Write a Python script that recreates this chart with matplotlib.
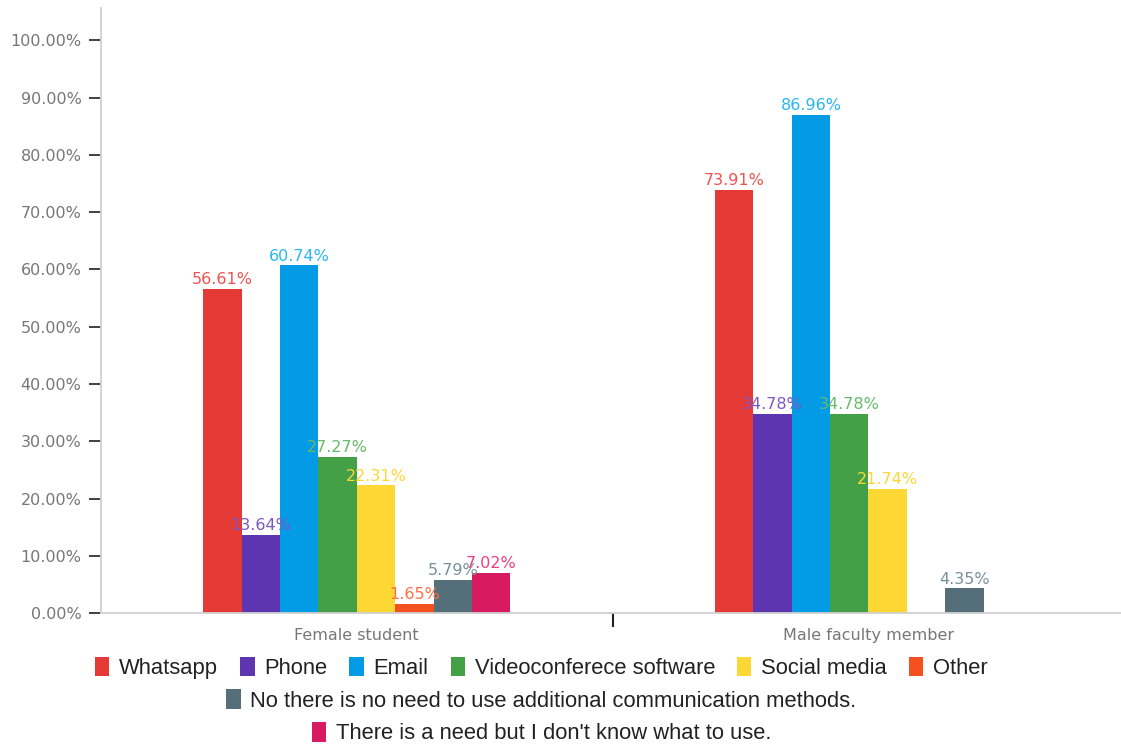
import numpy as np
import matplotlib.pyplot as plt
from matplotlib.patches import Patch
from matplotlib.ticker import FuncFormatter

groups = ["Female student", "Male faculty member"]
methods = [
    "Whatsapp",
    "Phone",
    "Email",
    "Videoconferece software",
    "Social media",
    "Other",
    "No there is no need to use additional communication methods.",
    "There is a need but I don't know what to use.",
]
female = [56.61, 13.64, 60.74, 27.27, 22.31, 1.65, 5.79, 7.02]
male = [73.91, 34.78, 86.96, 34.78, 21.74, 0.0, 4.35, 0.0]

bar_colors = ["#e53935", "#5e35b1", "#039be5", "#43a047",
              "#fdd835", "#f4511e", "#546e7a", "#d81b60"]
label_colors = ["#ef5350", "#7e57c2", "#29b6f6", "#66bb6a",
                "#fdd835", "#ff7043", "#78909c", "#ec407a"]

plt.rcParams['font.family'] = ['DejaVu Sans']

fig = plt.figure(figsize=(11.21, 7.46), dpi=100)
ax = fig.add_axes([0.090, 0.178, 0.913, 0.811])

x = np.arange(len(groups))
width = 0.075
n = len(methods)
for i, name in enumerate(methods):
    vals = [female[i], male[i]]
    pos = x + (i - (n - 1) / 2) * width
    ax.bar(pos, vals, width, color=bar_colors[i], label=name)
    for px, v in zip(pos, vals):
        if v > 0:
            ax.text(px, v + 0.3, f"{v:.2f}%", ha='center', va='bottom',
                    fontsize=11.5, color=label_colors[i])

ax.set_xlim(-0.5, 1.5)
ax.set_ylim(0, 105.6)
ax.set_yticks(np.arange(0, 101, 10))
ax.yaxis.set_major_formatter(FuncFormatter(lambda v, _: f"{v:.2f}%"))
ax.tick_params(axis='y', length=9, width=1.3, color='#333333',
               labelcolor='#777777', labelsize=11.5, pad=5)

# category names sit under each group, tick only at the boundary
ax.set_xticks([0.5])
ax.set_xticklabels([""])
ax.tick_params(axis='x', length=10, width=1.5, color='#222222', direction='out')
for gx, g in zip(x, groups):
    ax.text(gx, -2.6, g, ha='center', va='top', fontsize=11.5,
            color='#777777', transform=ax.transData)

for s in ['top', 'right']:
    ax.spines[s].set_visible(False)
for s in ['left', 'bottom']:
    ax.spines[s].set_color('#d0d0d0')
    ax.spines[s].set_linewidth(1.3)

# legend laid out in three centred rows
handles = [Patch(facecolor=c, edgecolor='none') for c in bar_colors]
leg_font = {'family': ['Liberation Sans', 'DejaVu Sans'], 'size': 15.8}
rows = [(slice(0, 6), 0.105), (slice(6, 7), 0.061), (slice(7, 8), 0.017)]
for sl, yy in rows:
    leg = fig.legend(handles[sl], methods[sl], loc='center',
                     bbox_to_anchor=(0.483, yy), ncol=6, frameon=False,
                     prop=leg_font, handlelength=0.65, handleheight=1.0,
                     handletextpad=0.45, columnspacing=1.0)
    for t in leg.get_texts():
        t.set_color('#222222')

fig.savefig("out.png", dpi=100)
